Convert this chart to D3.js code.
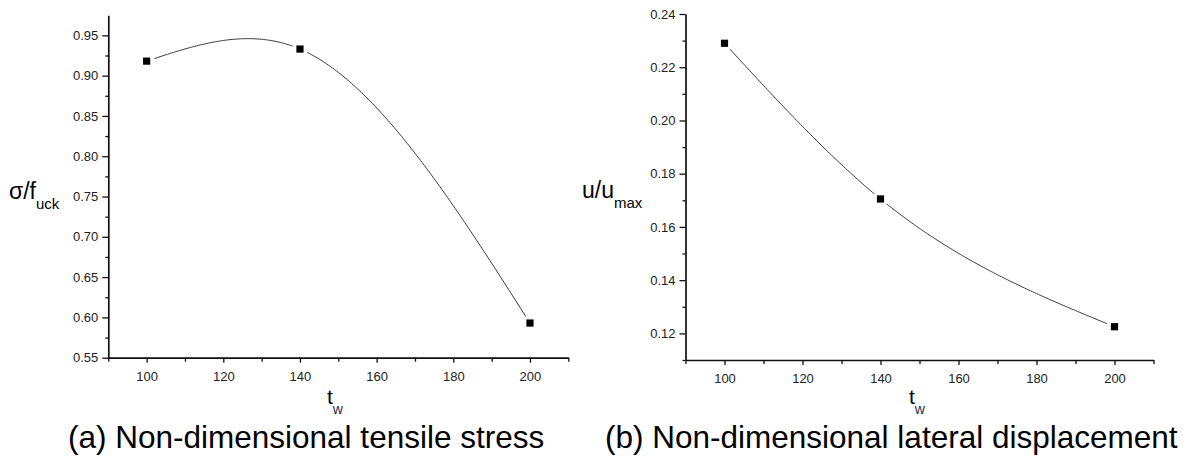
<!DOCTYPE html>
<html>
<head>
<meta charset="utf-8">
<script src="https://cdn.jsdelivr.net/npm/d3@7"></script>
<style>
  html, body { margin: 0; padding: 0; background: #fff; }
  svg { display: block; font-family: "Liberation Sans", Arial, sans-serif; }
</style>
</head>
<body>
<svg id="fig" width="1198" height="457"></svg>
<script>
// Web thickness values and the two normalised responses
const tw = [100, 140, 200];
const stressRatio = [0.918, 0.933, 0.593];     // sigma / f_uck
const dispRatio = [0.229, 0.1705, 0.1225];     // u / u_max

const xTicks = [100, 120, 140, 160, 180, 200];
const xMinorTicks = [90, 110, 130, 150, 170, 190, 210];
const stressTicks = [0.55, 0.60, 0.65, 0.70, 0.75, 0.80, 0.85, 0.90, 0.95];
const stressMinorTicks = [0.575, 0.625, 0.675, 0.725, 0.775, 0.825, 0.875, 0.925];
const dispTicks = [0.12, 0.14, 0.16, 0.18, 0.20, 0.22, 0.24];
const dispMinorTicks = [0.11, 0.13, 0.15, 0.17, 0.19, 0.21, 0.23];

const captions = ["(a) Non-dimensional tensile stress", "(b) Non-dimensional lateral displacement"];

// Natural cubic spline y(x) through the given knots (free ends: y'' = 0)
function naturalSpline(xs, ys) {
  const n = xs.length - 1;
  const h = d3.range(n).map(i => xs[i + 1] - xs[i]);
  const M = new Array(n + 1).fill(0);
  if (n > 1) {
    const a = [], b = [], c = [], r = [];
    for (let i = 1; i < n; i++) {
      a.push(h[i - 1]); b.push(2 * (h[i - 1] + h[i])); c.push(h[i]);
      r.push(6 * ((ys[i + 1] - ys[i]) / h[i] - (ys[i] - ys[i - 1]) / h[i - 1]));
    }
    const m = r.length;
    for (let i = 1; i < m; i++) {
      const w = a[i] / b[i - 1];
      b[i] -= w * c[i - 1];
      r[i] -= w * r[i - 1];
    }
    const sol = new Array(m);
    sol[m - 1] = r[m - 1] / b[m - 1];
    for (let i = m - 2; i >= 0; i--) sol[i] = (r[i] - c[i] * sol[i + 1]) / b[i];
    for (let i = 1; i < n; i++) M[i] = sol[i - 1];
  }
  return function (x) {
    let i = Math.min(n - 1, Math.max(0, d3.bisectRight(xs, x) - 1));
    const hi = h[i], A = xs[i + 1] - x, B = x - xs[i];
    return M[i] * A * A * A / (6 * hi) + M[i + 1] * B * B * B / (6 * hi)
      + (ys[i] / hi - M[i] * hi / 6) * A + (ys[i + 1] / hi - M[i + 1] * hi / 6) * B;
  };
}

const svg = d3.select("#fig");
const defs = svg.append("defs");

function panel(opts) {
  const x = d3.scaleLinear().domain([90, 210]).range(opts.xRange);
  const y = d3.scaleLinear().domain(opts.yDomain).range(opts.yRange);
  const g = svg.append("g");
  const axisColor = "#111";
  const labelColor = "#222";

  // minor ticks
  g.append("g")
    .attr("transform", `translate(0,${opts.yRange[0]})`)
    .call(d3.axisBottom(x).tickValues(xMinorTicks).tickSize(4).tickFormat(""))
    .call(a => a.select(".domain").remove())
    .call(a => a.selectAll("line").attr("stroke", axisColor).attr("stroke-width", 1.3));
  g.append("g")
    .attr("transform", `translate(${opts.xRange[0]},0)`)
    .call(d3.axisLeft(y).tickValues(opts.yMinor).tickSize(3).tickFormat(""))
    .call(a => a.select(".domain").remove())
    .call(a => a.selectAll("line").attr("stroke", axisColor).attr("stroke-width", 1.3));

  // major axes
  const xa = g.append("g")
    .attr("transform", `translate(0,${opts.yRange[0]})`)
    .call(d3.axisBottom(x).tickValues(xTicks).tickSize(5).tickSizeOuter(0).tickPadding(9).tickFormat(d3.format("d")));
  const ya = g.append("g")
    .attr("transform", `translate(${opts.xRange[0]},0)`)
    .call(d3.axisLeft(y).tickValues(opts.yTicks).tickSize(6).tickSizeOuter(0).tickPadding(4).tickFormat(d3.format(".2f")));
  [xa, ya].forEach(a => {
    a.select(".domain").attr("stroke", axisColor).attr("stroke-width", 1.7);
    a.selectAll(".tick line").attr("stroke", axisColor).attr("stroke-width", 1.3);
    a.selectAll("text").attr("fill", labelColor).style("font-size", "13px")
      .style("font-family", "'Liberation Sans', Arial, sans-serif");
  });

  const pts = tw.map((t, i) => [x(t), y(opts.values[i])]);

  // line is interrupted around each marker
  const maskId = "gap-" + opts.id;
  const mask = defs.append("mask").attr("id", maskId).attr("maskUnits", "userSpaceOnUse")
    .attr("x", 0).attr("y", 0).attr("width", 1198).attr("height", 457);
  mask.append("rect").attr("width", 1198).attr("height", 457).attr("fill", "#fff");
  mask.selectAll("circle").data(pts).join("circle")
    .attr("cx", d => d[0]).attr("cy", d => d[1]).attr("r", 8).attr("fill", "#000");

  // smooth spline curve through the data points
  const f = naturalSpline(tw, opts.values);
  const xs = d3.range(tw[0], tw[tw.length - 1] + 0.001, 0.5);
  g.append("path")
    .datum(xs)
    .attr("d", d3.line().x(t => x(t)).y(t => y(f(t))))
    .attr("fill", "none")
    .attr("stroke", "#3a3a3a")
    .attr("stroke-width", 1)
    .attr("mask", `url(#${maskId})`);

  g.selectAll("rect.pt").data(pts).join("rect")
    .attr("class", "pt")
    .attr("x", d => d[0] - 3.6).attr("y", d => d[1] - 3.6)
    .attr("width", 7.2).attr("height", 7.2)
    .attr("fill", "#000");

  // y-axis title with subscript
  const yt = g.append("text").attr("x", opts.yTitleX).attr("y", opts.yTitleY).attr("fill", "#000");
  yt.append("tspan").text(opts.yMain).style("font-size", "23px");
  yt.append("tspan").text(opts.ySub).attr("dy", 10).style("font-size", "15px");

  // x-axis title t_w
  const xt = g.append("text").attr("x", opts.xTitleX).attr("y", 404).attr("fill", "#000");
  xt.append("tspan").text("t").style("font-size", "21px");
  xt.append("tspan").text("w").attr("dy", 10).attr("fill", "#1d2b55").style("font-size", "14px");

  g.append("text")
    .attr("x", opts.capX).attr("y", 448)
    .attr("fill", "#000")
    .style("font-size", "31.5px")
    .text(opts.caption);
}

panel({
  id: "a",
  xRange: [108.3, 568.3],
  yDomain: [0.55, 0.975],
  yRange: [357.7, 15.2],
  yTicks: stressTicks,
  yMinor: stressMinorTicks,
  values: stressRatio,
  yMain: "\u03c3/f", ySub: "uck",
  yTitleX: 9, yTitleY: 199,
  xTitleX: 327,
  capX: 68,
  caption: captions[0]
});

panel({
  id: "b",
  xRange: [685.5, 1153.5],
  yDomain: [0.11, 0.24],
  yRange: [360, 14],
  yTicks: dispTicks,
  yMinor: dispMinorTicks,
  values: dispRatio,
  yMain: "u/u", ySub: "max",
  yTitleX: 582, yTitleY: 198,
  xTitleX: 909,
  capX: 605,
  caption: captions[1]
});
</script>
</body>
</html>
